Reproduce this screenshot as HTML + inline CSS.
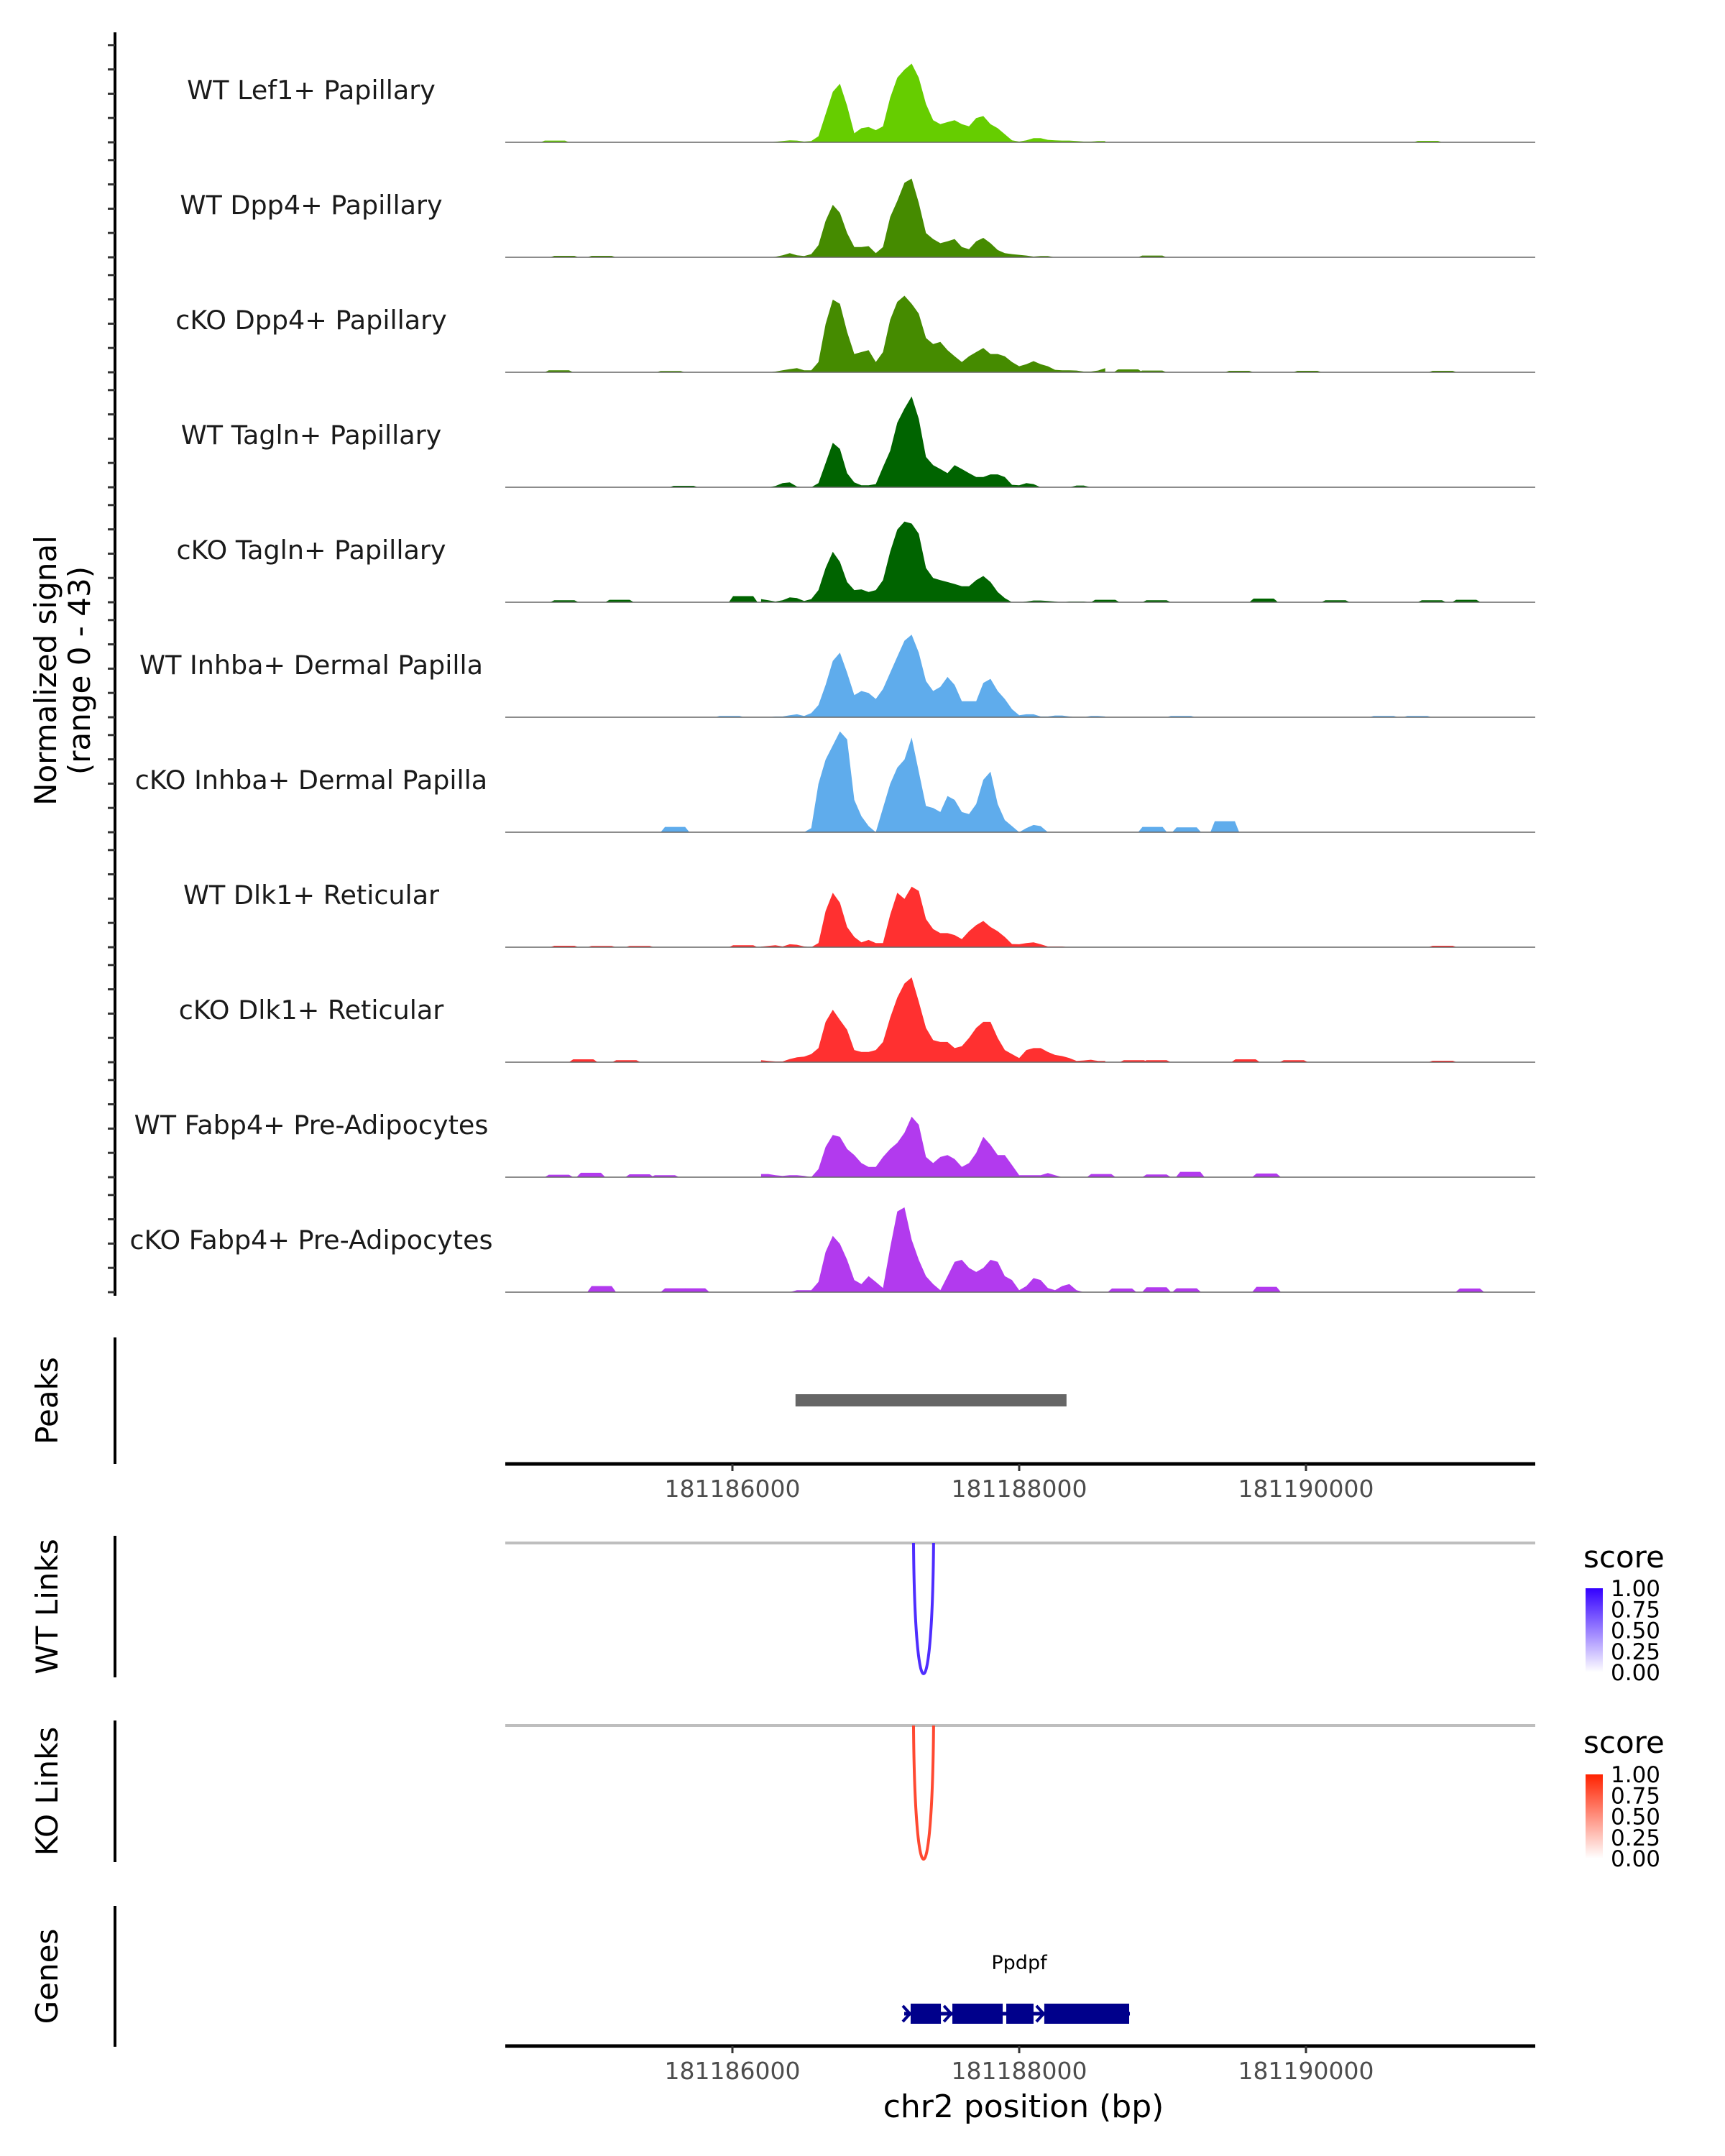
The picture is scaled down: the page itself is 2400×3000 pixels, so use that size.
<!DOCTYPE html>
<html><head><meta charset="utf-8"><title>Coverage plot</title>
<style>html,body{margin:0;padding:0;background:#fff}svg{display:block}text{font-family:"DejaVu Sans","Liberation Sans",sans-serif}</style>
</head><body>
<svg id="chart" xmlns="http://www.w3.org/2000/svg" width="2400" height="3000" viewBox="0 0 2400 3000">
<g id="sig"></g>
<g id="ann"></g>
</svg>
<script>
// ---------- data ----------
const trackNames = ["WT Lef1+ Papillary","WT Dpp4+ Papillary","cKO Dpp4+ Papillary","WT Tagln+ Papillary","cKO Tagln+ Papillary","WT Inhba+ Dermal Papilla","cKO Inhba+ Dermal Papilla","WT Dlk1+ Reticular","cKO Dlk1+ Reticular","WT Fabp4+ Pre-Adipocytes","cKO Fabp4+ Pre-Adipocytes"];
const trackColors = ["#66CD00","#458B00","#458B00","#006400","#006400","#5FACEC","#5FACEC","#FF3030","#FF3030","#B23AEE","#B23AEE"];
const gridStart = 181186200;
const gridStep = 50;
const sig0 = [0,0,0.2,0.5,0.8,0.7,0.3,0.5,2.5,11.6,20.8,24.1,15,3.7,5.8,6.3,5,6.6,18.3,26.6,29.9,32.4,26.6,15.8,9.1,7.5,8.3,9.1,7.5,6.6,10,10.8,7.5,5.8,3.3,0.8,0.3,0.8,1.7,1.7,1,0.8,0.7,0.7,0.5,0.3,0.3,0.5,0.5];
const sig1 = [0,0,0.2,0.8,1.7,0.8,0.5,1.3,5,15,21.6,18.3,10,4.2,4.2,4.6,1.7,4.2,16.6,23.2,30.7,32.4,22.4,10,7.5,5.8,6.6,7.5,4.2,3.3,6.6,8,5.8,3,1.7,1.3,1,0.7,0.3,0.5,0.5,0,0,0,0,0,0,0,0];
const sig2 = [0,0,0.3,0.8,1.3,1.7,0.8,0.8,4.2,19.9,29.9,28.2,16.6,7.5,8.3,9.1,4.2,8.3,21.6,29,31.5,28.2,24.1,14.1,11.6,12.5,9.1,6.6,4.2,6.6,8.3,10,7.5,7.5,6.6,4.2,2.5,3.3,4.6,3.3,2.5,1,0.8,0.8,0.7,0.3,0.3,0.7,1.7];
const sig3 = [0,0,0.5,1.7,2,0.3,0,0,1.7,10,18.3,15.8,5.8,2,0.8,0.8,1.3,8.3,15,26.6,32.4,37.4,28.2,12.5,9.1,7.5,5.8,9.1,7.5,5.8,4.2,4.2,5.3,5.3,4.2,1,0.8,1.7,1.3,0,0,0,0,0,0.7,0.7,0,0,0];
const sig4 = [1.3,0.8,0.3,0.8,2,1.7,0.5,1.3,5,14.1,20.8,16.6,8.3,5,5.3,4.2,5,9.1,20.8,29.9,33.2,32.4,28.2,14.1,10,9.1,8.3,7.5,6.6,6.6,9.1,10.8,8.3,4.2,1.7,0,0,0.3,0.7,0.7,0.5,0.3,0,0.3,0.3,0.3,0,0,0.5];
const sig5 = [0,0,0.3,0.3,0.8,1.2,0.5,1.7,5,13.3,23.2,26.6,18.3,9.1,10.8,10,7.5,11.6,18.3,24.9,31.5,34,26.6,14.9,10.8,12.5,16.6,13.3,6.6,6.6,6.6,14.1,15.8,10.8,7.5,3.3,0.8,1.2,1.2,0.3,0.3,0.7,0.7,0.3,0,0,0.5,0.5,0.3];
const sig6 = [0,0,0,0,0,0,0,1.7,19.9,29.9,35.7,41.5,38.2,13.3,6.6,2.5,0,10,19.9,26.6,29.9,39,24.9,10.8,10,8.3,14.9,13.3,8.3,7.5,11.6,21.6,24.9,11.6,5,2.5,0,1.7,3,2.5,0,0,0,0,0,0,0,0,0];
const sig7 = [0.2,0.5,0.8,0.3,1.2,1,0.3,0,1.7,14.9,22.4,18.3,8.3,4.2,2,3,1.7,1.7,13.3,22.4,19.9,24.9,23.2,11.6,7.5,5.8,5.8,5,3.3,6.6,9.1,10.8,8.3,6.6,4.2,1.3,1.2,1.7,2,1.2,0.3,0.3,0.3,0,0,0,0,0,0];
const sig8 = [0.8,0.5,0.3,0.3,1.3,2,2.3,3.3,5.8,16.6,21.6,17.4,13.3,5,4.2,4.2,5,8.3,18.3,26.6,32.4,34.9,24.9,14.1,9.1,8.3,8.3,5.8,6.6,10,14.1,16.6,16.6,10,5,3.3,1.7,5,5.8,5.8,4.2,3,2.5,1.7,0.5,0.7,1,0.5,0.5];
const sig9 = [1.3,1.3,0.8,0.5,0.8,0.8,0.5,0,3.3,12.5,17.4,16.6,11.6,9.1,5.8,4.2,4.2,8.3,11.6,14.1,18.3,24.9,21.6,8.3,5.8,8.3,9.1,7.5,4.2,5.8,10,16.6,13.3,9.1,9.1,5,0.8,0.8,0.8,0.8,1.7,0.8,0,0,0,0,0,0.8,0.8];
const sig10 = [0,0,0,0,0,0.8,0.8,0.8,4.2,16.6,23.2,19.9,13.3,5,3.3,6.6,4.2,1.7,18.3,33.2,34.9,21.6,13.3,6.6,3.3,0.8,6.6,12.5,13.3,10,8.3,10,13.3,12.5,6.6,5,0.8,2.5,5.8,5,1.7,0.8,2.5,3.3,0.8,0,0,0,0];
// background bumps outside main grid: [centre bp, height]
const bumps0 = [[181184762,0.7],[181190850,0.6]];
const bumps1 = [[181184828,0.6],[181185088,0.6],[181188928,0.7]];
const bumps2 = [[181184790,0.8],[181185569,0.5],[181188760,1.2],[181188928,0.7],[181189534,0.6],[181190010,0.6],[181190953,0.6]];
const bumps3 = [[181185660,0.6]];
const bumps4 = [[181184828,0.8],[181185213,1.0],[181186075,2.5],[181188600,1.0],[181188958,0.8],[181189705,1.5],[181190206,0.8],[181190878,0.8],[181191118,1.0]];
const bumps5 = [[181185980,0.5],[181189128,0.5],[181190542,0.5],[181190777,0.5]];
const bumps6 = [[181185600,2.2],[181188930,2.2],[181189168,2.0],[181189434,4.5]];
const bumps7 = [[181184828,0.6],[181185088,0.5],[181185353,0.5],[181186075,0.8],[181190953,0.6]];
const bumps8 = [[181184960,1.2],[181185260,0.8],[181188800,0.8],[181188958,0.8],[181189579,1.2],[181189915,0.8],[181190953,0.6]];
const bumps9 = [[181184790,1.0],[181185013,1.8],[181185353,1.2],[181185529,0.8],[181188572,1.3],[181188958,1.1],[181189193,2.2],[181189725,1.5]];
const bumps10 = [[181185088,2.5],[181185600,1.6],[181185740,1.6],[181188717,1.5],[181188958,2.0],[181189168,1.6],[181189725,2.2],[181191143,1.5]];
const peakStart = [181186440];
const peakEnd = [181188330];
const wtLinkStart = [181187263], wtLinkEnd = [181187403], wtLinkScore = [0.92];
const koLinkStart = [181187263], koLinkEnd = [181187403], koLinkScore = [0.92];
const geneName = "Ppdpf";
const geneStart = 181187198, geneEnd = 181188772;
const exonStart = [181187243,181187534,181187910,181188175];
const exonEnd = [181187454,181187885,181188100,181188767];
const xTicks = [181186000,181188000,181190000];
const legendTicks = ["1.00","0.75","0.50","0.25","0.00"];
const yTickValues = [0,10,20,30,40];

// ---------- scales ----------
const X0 = 703, X1 = 2136;
const pxPerBp = 0.1995;
function xs(bp){ return 1019 + (bp - 181186000) * pxPerBp; }
const base0 = 198, trackGap = 160, pxPerUnit = 3.38;
function ys(i, v){ return base0 + i*trackGap - v*pxPerUnit; }

const NS = "http://www.w3.org/2000/svg";
function mk(tag, attrs, parent){ const e = document.createElementNS(NS, tag); for (const k in attrs) e.setAttribute(k, attrs[k]); parent.appendChild(e); return e; }
const svg = document.getElementById('chart');
const sig = document.getElementById('sig');
const ann = document.getElementById('ann');

const allSig = [sig0,sig1,sig2,sig3,sig4,sig5,sig6,sig7,sig8,sig9,sig10];
const allBumps = [bumps0,bumps1,bumps2,bumps3,bumps4,bumps5,bumps6,bumps7,bumps8,bumps9,bumps10];

// left axis
const ax = mk('line',{x1:160,y1:45,x2:160,y2:1803,stroke:'#000','stroke-width':4},sig);


for (let i=0;i<11;i++){
  for (const v of yTickValues){
    const t = mk('line',{x1:150,x2:160,y1:ys(i,v),y2:ys(i,v),stroke:'#333','stroke-width':3},sig);
    
    
  }
}
const yt = mk('text',{x:0,y:0,'font-size':42,'text-anchor':'middle',fill:'#000',transform:'translate(86,933) rotate(-90)'},sig);


const ts1 = mk('tspan',{x:0,dy:-8},yt); ts1.textContent='Normalized signal';
const ts2 = mk('tspan',{x:0,dy:47},yt); ts2.textContent='(range 0 - 43)';

for (let i=0;i<11;i++){
  const g = mk('g',{},sig);
  
  
  const vals = allSig[i];
  const b = ys(i,0);
  let d = 'M'+xs(gridStart).toFixed(1)+','+b;
  for (let k=0;k<vals.length;k++){ d += ' L'+xs(gridStart+k*gridStep).toFixed(1)+','+ys(i,vals[k]).toFixed(1); }
  d += ' L'+xs(gridStart+(vals.length-1)*gridStep).toFixed(1)+','+b+' Z';
  const p = mk('path',{d:d,fill:trackColors[i]},g);
  
  
  for (const bm of allBumps[i]){
    const cx = xs(bm[0]), w = 14, top = ys(i,bm[1]);
    const bp = mk('path',{d:'M'+(cx-w-6)+','+b+' L'+(cx-w)+','+top+' L'+(cx+w)+','+top+' L'+(cx+w+6)+','+b+' Z',fill:trackColors[i]},g);
    
    
  }
  const bl = mk('line',{x1:X0,x2:X1,y1:b,y2:b,stroke:'#666','stroke-width':1.5},g);
  
  
  const lab = mk('text',{x:433,y:b-60,'font-size':36.5,'text-anchor':'middle',fill:'#1a1a1a'},g);
  
  
  lab.textContent = trackNames[i];
}

// side titles + axes for annotation tracks
function sideTrack(name, title, y1, y2){
  const l = mk('line',{x1:160,x2:160,y1:y1,y2:y2,stroke:'#000','stroke-width':4},ann);
  
  
  const t = mk('text',{x:0,y:0,'font-size':42,'text-anchor':'middle',fill:'#000',transform:'translate(80,'+((y1+y2)/2)+') rotate(-90)'},ann);
  
  
  t.textContent = title;
}
sideTrack('peaks','Peaks',1861,2037);
sideTrack('wt-links','WT Links',2137,2334);
sideTrack('ko-links','KO Links',2394,2591);
sideTrack('genes','Genes',2652,2848);

// peaks
for (let i=0;i<peakStart.length;i++){
  const r = mk('rect',{x:xs(peakStart[i]),y:1940,width:xs(peakEnd[i])-xs(peakStart[i]),height:17,fill:'#666'},ann);
  
  
}
function xAxis(name, y, ly){
  const l = mk('line',{x1:X0,x2:X1,y1:y,y2:y,stroke:'#000','stroke-width':5},ann);
  
  
  for (const t of xTicks){
    const tk = mk('line',{x1:xs(t),x2:xs(t),y1:y,y2:y+10,stroke:'#333','stroke-width':3},ann);
    
    
    const tl = mk('text',{x:xs(t),y:ly,'font-size':33,'text-anchor':'middle',fill:'#4d4d4d'},ann);
    
    
    tl.textContent = t;
  }
}
xAxis('peaks-x-axis',2037,2083);
xAxis('x-axis',2847,2893);
const xt = mk('text',{x:1424,y:2946,'font-size':44,'text-anchor':'middle',fill:'#000'},ann);


xt.textContent = 'chr2 position (bp)';

// links
function links(name, s, e, sc, yTop, yBot, col){
  const gl = mk('line',{x1:X0,x2:X1,y1:yTop,y2:yTop,stroke:'#bebebe','stroke-width':4},ann);
  
  
  for (let i=0;i<s.length;i++){
    const a = xs(s[i]), b = xs(e[i]);
    const cy = (yBot - 0.25*yTop)/0.75;
    const p = mk('path',{d:'M'+a+','+yTop+' C'+(a+2)+','+cy+' '+(b-2)+','+cy+' '+b+','+yTop,fill:'none',stroke:col,'stroke-width':4,opacity:Math.max(0.3,sc[i])},ann);
    
    
  }
}
links('wt-link',wtLinkStart,wtLinkEnd,wtLinkScore,2147,2329,'#3F1BFF');
links('ko-link',koLinkStart,koLinkEnd,koLinkScore,2401,2587,'#FF3A1F');

// legends
const defs = mk('defs',{},svg);
function grad(id,col){ const g = mk('linearGradient',{id:id,x1:0,y1:1,x2:0,y2:0},defs); mk('stop',{offset:0,'stop-color':'#ffffff'},g); mk('stop',{offset:1,'stop-color':col},g); }
grad('gwt','#3300FF'); grad('gko','#FF2200');
function legend(name, gid, titleY, barTop){
  const t = mk('text',{x:2203,y:titleY,'font-size':42,fill:'#000'},ann);
  
  
  t.textContent = 'score';
  const r = mk('rect',{x:2206,y:barTop,width:24,height:117,fill:'url(#'+gid+')'},ann);
  
  
  legendTicks.forEach((lt,k)=>{
    const y = barTop + k*117/4;
    const tx = mk('text',{x:2241,y:y+11,'font-size':31,fill:'#000'},ann);
    
    
    tx.textContent = lt;
  });
}
legend('wt-legend','gwt',2181,2210);
legend('ko-legend','gko',2439,2469);

// gene
const gy = 2802;
const gl = mk('line',{x1:xs(geneStart),x2:xs(geneEnd),y1:gy,y2:gy,stroke:'#00008B','stroke-width':5},ann);


for (let i=0;i<exonStart.length;i++){
  const r = mk('rect',{x:xs(exonStart[i]),y:gy-14,width:xs(exonEnd[i])-xs(exonStart[i]),height:28,fill:'#00008B'},ann);
  
  
}
const chevX = [geneStart, 181187485, 181188130];
for (const c of chevX){
  const x = xs(c);
  const ch = mk('path',{d:'M'+(x-2)+','+(gy-11)+' L'+(x+8)+','+gy+' L'+(x-2)+','+(gy+11),fill:'none',stroke:'#00008B','stroke-width':4},ann);
  
  
}
const gn = mk('text',{x:1418,y:2740,'font-size':27,'text-anchor':'middle',fill:'#000'},ann);


gn.textContent = geneName;
</script>
</body></html>
